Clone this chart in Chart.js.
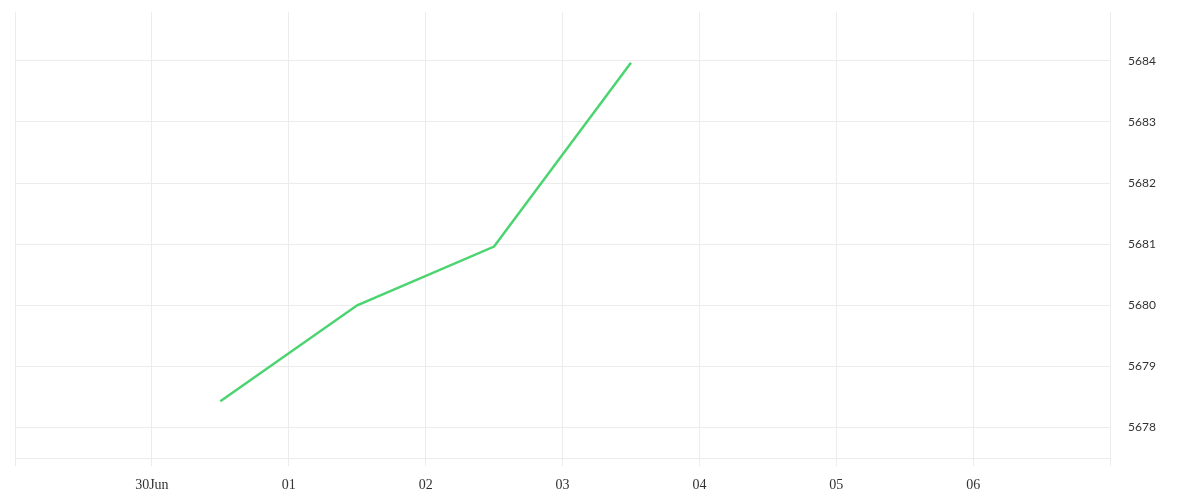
<!DOCTYPE html>
<html><head><meta charset="utf-8">
<script src="https://cdn.jsdelivr.net/npm/chart.js@4/dist/chart.umd.min.js"></script>
<style>html,body{margin:0;padding:0;background:#fff}#wrap{width:1200px;height:500px}</style>
</head><body><div id="wrap"><canvas id="c" width="1200" height="500"></canvas></div>
<script>
// x positions are day offsets from 29 Jun (0) to 07 Jul (8)
const dayPositions = [0, 1, 2, 3, 4, 5, 6, 7, 8];
const dayLabels = ["", "30Jun", "01", "02", "03", "04", "05", "06", ""];
const pointDays = [1.5, 2.5, 3.5, 4.5];
const pointValues = [5678.43, 5680.0, 5680.96, 5683.97];
const yMin = 5677.5, yMax = 5684.8;

const grid = '#ececec';
new Chart(document.getElementById('c'), {
  type: 'line',
  data: { datasets: [{
    data: pointDays.map((d, i) => ({ x: d, y: pointValues[i] })),
    borderColor: '#4cd471', borderWidth: 2.5, pointRadius: 0, tension: 0, fill: false
  }]},
  options: {
    responsive: false, animation: false,
    layout: { padding: { left: 15, top: 12, right: 0, bottom: 0 } },
    plugins: { legend: { display: false }, tooltip: { enabled: false } },
    scales: {
      x: {
        type: 'linear', min: 0, max: 8,
        afterBuildTicks: s => { s.ticks = dayPositions.map(v => ({ value: v })); },
        afterFit: s => { s.height = 42; s.paddingLeft = 0; s.paddingRight = 0; },
        grid: { color: grid, tickLength: 8, lineWidth: 1 },
        border: { display: true, color: grid },
        ticks: { autoSkip: false, maxRotation: 0, padding: 11, color: '#333',
          font: { family: 'Liberation Serif', size: 14 },
          callback: (v) => dayLabels[dayPositions.indexOf(v)] ?? '' }
      },
      y: {
        position: 'right', min: yMin, max: yMax,
        afterBuildTicks: s => { const t = []; for (let v = Math.ceil(yMin); v <= Math.floor(yMax); v++) t.push({ value: v }); s.ticks = t; },
        afterFit: s => { s.width = 90; s.paddingTop = 0; s.paddingBottom = 0; },
        grid: { color: grid, drawTicks: false },
        border: { display: false },
        ticks: { padding: 18, color: '#333', font: { family: 'Lato', size: 12 },
          callback: v => String(v) }
      }
    }
  }
});
</script></body></html>
